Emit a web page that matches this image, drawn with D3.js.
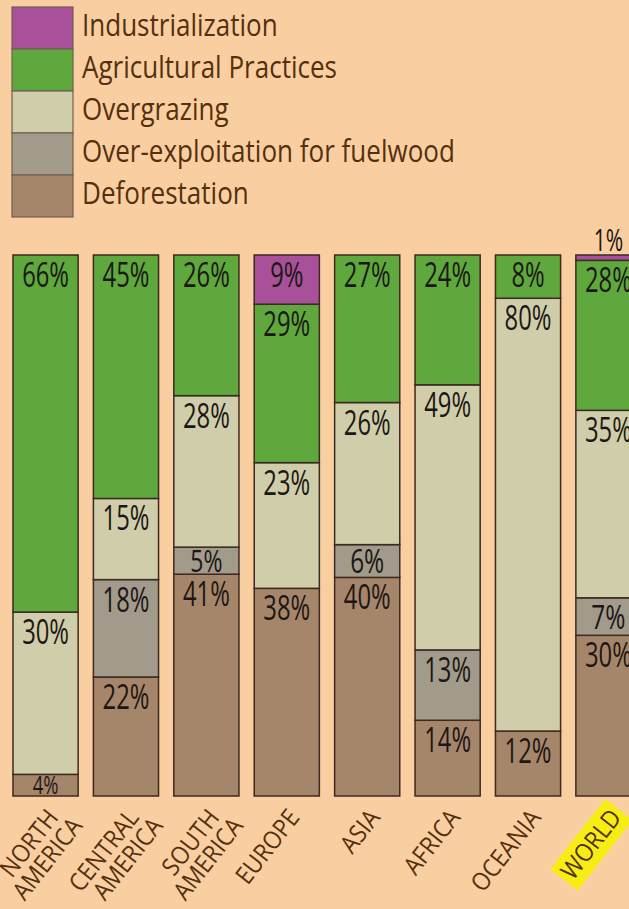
<!DOCTYPE html>
<html>
<head>
<meta charset="utf-8">
<script src="https://cdn.jsdelivr.net/npm/d3@7"></script>
<style>
  html, body { margin: 0; padding: 0; background: #f9cfa1; }
  svg { display: block; }
</style>
</head>
<body>
<svg id="chart" width="629" height="909"></svg>
<script>
// Causes of land degradation by region (% share)
const categories = ["North America", "Central America", "South America", "Europe", "Asia", "Africa", "Oceania", "World"];
const industrialization = [0, 0, 0, 9, 0, 0, 0, 1];
const agricultural      = [66, 45, 26, 29, 27, 24, 8, 28];
const overgrazing       = [30, 15, 28, 23, 26, 49, 80, 35];
const fuelwood          = [0, 18, 5, 0, 6, 13, 0, 7];
const deforestation     = [4, 22, 41, 38, 40, 14, 12, 30];

// Series listed in legend order (top to bottom)
const seriesNames = ["Industrialization", "Agricultural Practices", "Overgrazing", "Over-exploitation for fuelwood", "Deforestation"];
const seriesValues = [industrialization, agricultural, overgrazing, fuelwood, deforestation];
const seriesColors = ["#a8519a", "#5ea83d", "#d0cdaa", "#a29b8c", "#a6866b"];
const highlighted = "World";

const W = 629, H = 909;
const svg = d3.select("#chart");
svg.append("rect").attr("width", W).attr("height", H).attr("fill", "#f9cfa1");

const FONT = "'Open Sans', 'Noto Sans', sans-serif";
const BROWN = "#55300f";
const INK = "#1c1714";

// Rows for stacking
const rows = categories.map((c, i) => {
  const r = { category: c };
  seriesNames.forEach((s, j) => { r[s] = seriesValues[j][i]; });
  return r;
});

// Stack from the bottom: deforestation first, industrialization last
const stackKeys = seriesNames.slice().reverse();
const stacked = d3.stack().keys(stackKeys).offset(d3.stackOffsetExpand)(rows);
const color = d3.scaleOrdinal().domain(seriesNames).range(seriesColors);

const x = d3.scaleBand().domain(categories).range([13, 641]).paddingInner(0.19).paddingOuter(0).align(0);
const y = d3.scaleLinear().domain([0, 1]).range([796, 255]);

// Legend
const legend = svg.append("g");
seriesNames.forEach((s, i) => {
  const ly = 7 + i * 42;
  legend.append("rect")
    .attr("x", 12).attr("y", ly).attr("width", 61).attr("height", 42)
    .attr("fill", color(s)).attr("stroke", "#6e6052").attr("stroke-width", 1.2);
  legend.append("text")
    .attr("transform", `translate(82,${ly + 29}) scale(0.84,1)`)
    .attr("font-family", FONT).attr("font-size", 31).attr("fill", BROWN)
    .text(s);
});

// Bars
const bars = svg.append("g");
stacked.forEach(layer => {
  const key = layer.key;
  layer.forEach(seg => {
    const cat = seg.data.category;
    const v = seg.data[key];
    if (!v) return;
    const y0 = y(seg[1]), y1 = y(seg[0]);
    bars.append("rect")
      .attr("x", x(cat)).attr("y", y0)
      .attr("width", x.bandwidth()).attr("height", y1 - y0)
      .attr("fill", color(key))
      .attr("stroke", "#3b2a1f").attr("stroke-width", 1.5);
  });
});

// Value labels
const labels = svg.append("g");
stacked.forEach(layer => {
  const key = layer.key;
  layer.forEach(seg => {
    const cat = seg.data.category;
    const v = seg.data[key];
    if (!v) return;
    const y0 = y(seg[1]), y1 = y(seg[0]);
    const h = y1 - y0;
    const cx = x(cat) + x.bandwidth() / 2;
    let fs = 35, by = y0 + 32, sx = 0.68;
    if (h < 12) {          // too thin: put the label above the bar
      fs = 31; by = y0 - 4;
    } else if (h < 40) {   // short segment: smaller, centred text
      fs = Math.min(33, h * 1.15);
      by = y0 + h / 2 + fs * 0.37;
      sx = 0.74;
    }
    labels.append("text")
      .attr("transform", `translate(${cx},${by}) scale(${sx},1)`)
      .attr("text-anchor", "middle")
      .attr("font-family", FONT).attr("font-size", fs).attr("fill", INK)
      .text(v + "%");
  });
});

// Category axis with rotated, two-line labels
const axis = d3.axisBottom(x).tickSize(0).tickFormat(d => d.toUpperCase());
const axisG = svg.append("g").attr("transform", "translate(0,796)").call(axis);
axisG.select(".domain").remove();
axisG.selectAll(".tick").each(function (d) {
  const tick = d3.select(this);
  const t = tick.select("text");
  const words = d.toUpperCase().split(" ");
  t.text(null)
    .attr("y", null).attr("dy", null)
    .attr("transform", `translate(14,22) rotate(-52) scale(0.9,1)`)
    .attr("text-anchor", "end")
    .attr("font-family", FONT).attr("font-size", 25).attr("fill", BROWN);
  words.forEach((w, i) => {
    t.append("tspan").attr("x", i === 0 ? 0 : 9).attr("dy", i === 0 ? 0 : 24).text(w);
  });
  if (d === highlighted) {
    const bb = t.node().getBBox();
    tick.insert("rect", "text")
      .attr("x", bb.x - 5).attr("y", bb.y + 1)
      .attr("width", bb.width + 10).attr("height", bb.height + 1)
      .attr("transform", t.attr("transform"))
      .attr("fill", "#f6ee12");
  }
});
</script>
</body>
</html>
